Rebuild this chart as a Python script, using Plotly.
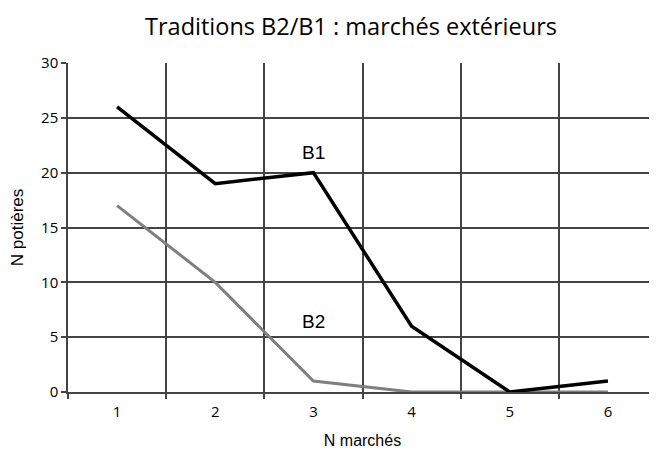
import plotly.graph_objects as go

# data
marches = [1, 2, 3, 4, 5, 6]
b1 = [26, 19, 20, 6, 0, 1]
b2 = [17, 10, 1, 0, 0, 0]

fig = go.Figure()

fig.add_trace(go.Scatter(
    x=marches, y=b2, mode="lines", name="B2",
    line=dict(color="#7f7f7f", width=3),
))
fig.add_trace(go.Scatter(
    x=marches, y=b1, mode="lines", name="B1",
    line=dict(color="black", width=3.5),
))

# series labels sitting inside the plot
fig.add_annotation(x=3, y=21.8, text="B1", showarrow=False,
                   font=dict(family="Liberation Sans, Arial", size=19, color="black"))
fig.add_annotation(x=3, y=6.4, text="B2", showarrow=False,
                   font=dict(family="Liberation Sans, Arial", size=19, color="black"))

# page body adds an 8px margin, so the figure is a bit smaller and shifted
fig.update_layout(
    width=649, height=441,
    showlegend=False,
    plot_bgcolor="white",
    paper_bgcolor="white",
    margin=dict(l=60, r=0, t=55, b=57, autoexpand=False),
    title=dict(
        text="Traditions B2/B1 : marchés extérieurs",
        x=0.5285, xanchor="center", y=0.957, yanchor="middle",
        font=dict(family="Open Sans", size=23.5, color="black"),
    ),
)

fig.update_xaxes(
    automargin=False,
    range=[0.5, 6.5],
    tickvals=marches,
    ticktext=[str(m) for m in marches],
    showgrid=False,
    ticks="outside", ticklen=5, tickcolor="rgba(0,0,0,0)",
    tickfont=dict(family="Open Sans", size=15, color="black"),
    showline=True, linecolor="#444", linewidth=1.5,
    zeroline=False,
    minor=dict(tick0=0.5, dtick=1, showgrid=True, gridcolor="#444", gridwidth=1.5,
               ticks="outside", ticklen=5, tickcolor="#444", tickwidth=1.5),
    title=dict(text="N marchés", standoff=23,
               font=dict(family="Liberation Sans, Arial", size=16, color="black")),
)

fig.update_yaxes(
    automargin=False,
    range=[0, 30],
    tickvals=[0, 5, 10, 15, 20, 25, 30],
    showgrid=True, gridcolor="#444", gridwidth=1.5,
    ticks="outside", ticklen=5, tickcolor="#444", tickwidth=1.5,
    tickfont=dict(family="Open Sans", size=15, color="black"),
    showline=True, linecolor="#444", linewidth=1.5,
    zeroline=False,
    title=dict(text="N potières", standoff=16,
               font=dict(family="Liberation Sans, Arial", size=17, color="black")),
)

fig.write_html("out.html")
